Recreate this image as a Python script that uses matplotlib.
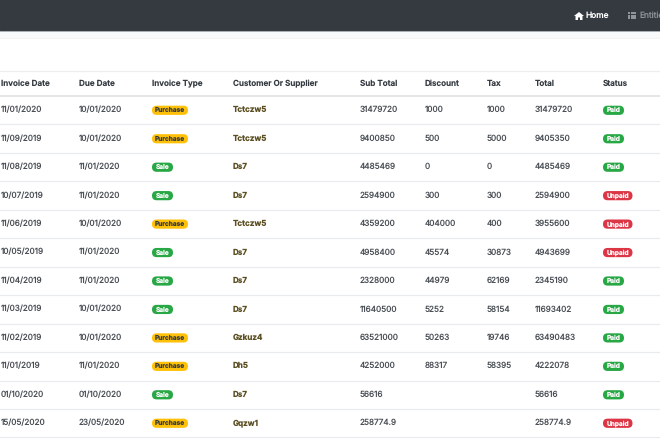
import matplotlib
matplotlib.use("Agg")
import matplotlib.pyplot as plt
from matplotlib.patches import FancyBboxPatch, Rectangle, Polygon

plt.rcParams["font.family"] = ["Inter", "DejaVu Sans"]
plt.rcParams["text.hinting"] = "none"
plt.rcParams["text.hinting_factor"] = 1

headers = ["Invoice Date", "Due Date", "Invoice Type", "Customer Or Supplier",
           "Sub Total", "Discount", "Tax", "Total", "Status"]
invoice_dates = ["11/01/2020", "11/09/2019", "11/08/2019", "10/07/2019", "11/06/2019", "10/05/2019",
                 "11/04/2019", "11/03/2019", "11/02/2019", "11/01/2019", "01/10/2020", "15/05/2020"]
due_dates = ["10/01/2020", "10/01/2020", "11/01/2020", "11/01/2020", "10/01/2020", "11/01/2020",
             "11/01/2020", "10/01/2020", "10/01/2020", "11/01/2020", "01/10/2020", "23/05/2020"]
invoice_types = ["Purchase", "Purchase", "Sale", "Sale", "Purchase", "Sale",
                 "Sale", "Sale", "Purchase", "Purchase", "Sale", "Purchase"]
customers = ["Tctczw5", "Tctczw5", "Ds7", "Ds7", "Tctczw5", "Ds7",
             "Ds7", "Ds7", "Gzkuz4", "Dh5", "Ds7", "Gqzw1"]
sub_totals = ["31479720", "9400850", "4485469", "2594900", "4359200", "4958400",
              "2328000", "11640500", "63521000", "4252000", "56616", "258774.9"]
discounts = ["1000", "500", "0", "300", "404000", "45574", "44979", "5252", "50263", "88317", "", ""]
taxes = ["1000", "5000", "0", "300", "400", "30873", "62169", "58154", "19746", "58395", "", ""]
totals = ["31479720", "9405350", "4485469", "2594900", "3955600", "4943699",
          "2345190", "11693402", "63490483", "4222078", "56616", "258774.9"]
statuses = ["Paid", "Paid", "Paid", "Unpaid", "Unpaid", "Unpaid",
            "Paid", "Paid", "Paid", "Paid", "Paid", "Unpaid"]

col_x = [1, 79, 152, 233, 360, 425, 487, 535, 603]
row_step = 28.45
first_row = 110
text_col = "#4a4f55"
badge_cols = {"Purchase": ("#ffc107", "#343a40", 36),
              "Sale": ("#28a745", "white", 21),
              "Paid": ("#28a745", "white", 21),
              "Unpaid": ("#dc3545", "white", 29.5)}

fig = plt.figure(figsize=(6.6, 4.4), dpi=100)
ax = fig.add_axes([0, 0, 1, 1])
ax.set_xlim(0, 660)
ax.set_ylim(440, 0)
ax.axis("off")


def badge(x, y, label):
    face, fg, w = badge_cols[label]
    ax.add_patch(FancyBboxPatch((x, y - 4.6), w, 9.2, boxstyle="round,pad=0,rounding_size=4.6",
                                fc=face, ec="none", zorder=2))
    ax.text(x + w / 2, y + 0.2, label, fontsize=4.7, color=fg, fontweight="bold",
            ha="center", va="center", zorder=3)


# navbar
ax.add_patch(Rectangle((0, 0), 660, 31, fc="#343a40", ec="none"))
ax.add_patch(Rectangle((0, 31), 660, 7, fc="#f8f9fa", ec="none"))
ax.plot([0, 660], [31.5, 31.5], color="#9aa0a6", lw=0.6)
ax.plot([0, 660], [38.5, 38.5], color="#f3f3f3", lw=0.8)

# home icon and links
ax.add_patch(Polygon([(574, 16), (579, 12), (584, 16), (582.5, 16), (582.5, 20), (580, 20), (580, 17.5),
                      (578, 17.5), (578, 20), (575.5, 20), (575.5, 16)], fc="white", ec="none"))
ax.text(585.5, 16, "Home", fontsize=6, color="white", va="center", fontweight="medium")
for iy in [12.3, 14.8, 17.3]:
    ax.add_patch(Rectangle((628, iy), 2.4, 2.1, fc="#8f9499", ec="none"))
    ax.add_patch(Rectangle((631, iy), 5, 2.1, fc="#8f9499", ec="none"))
ax.text(639, 16, "Entities", fontsize=6, color="#8f9499", va="center", clip_on=True)

# table grid
ax.plot([0, 660], [71.5, 71.5], color="#eeeeee", lw=0.9)
ax.plot([0, 660], [96.5, 96.5], color="#dcdee0", lw=1.1)
for i in range(len(invoice_dates)):
    y = 124.5 + i * row_step
    ax.plot([0, 660], [y, y], color="#e9ecef", lw=0.9)

for x, h in zip(col_x, headers):
    ax.text(x, 84, h, fontsize=5.85, color="#343a40", fontweight="semibold", va="center")

plain_cols = {0: invoice_dates, 1: due_dates, 4: sub_totals, 5: discounts, 6: taxes, 7: totals}
for i in range(len(invoice_dates)):
    y = first_row + i * row_step
    for c, vals in plain_cols.items():
        ax.text(col_x[c], y, vals[i], fontsize=5.9, color=text_col, va="center")
    badge(col_x[2], y + 0.3, invoice_types[i])
    ax.text(col_x[3], y, customers[i], fontsize=5.8, color="#5b4f22", fontweight="bold", va="center")
    badge(col_x[8], y + 0.3, statuses[i])

fig.savefig("out.png", dpi=100)
